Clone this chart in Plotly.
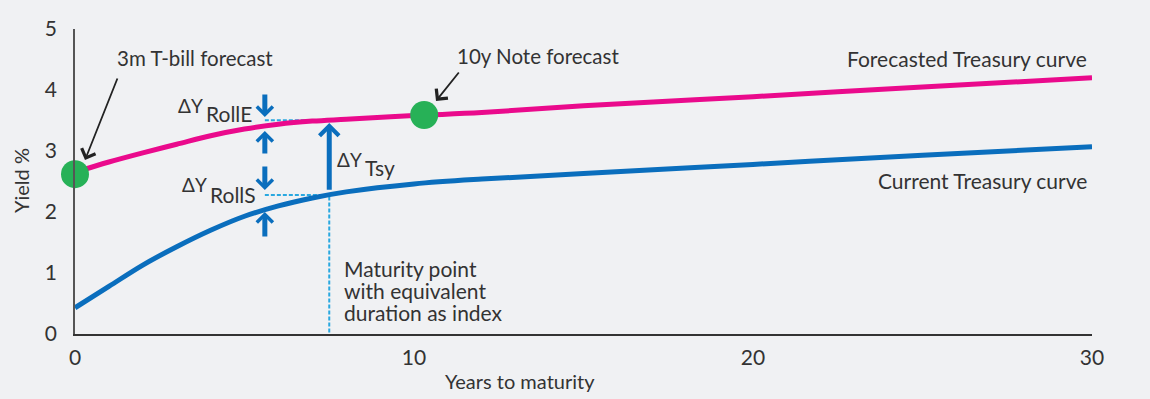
import numpy as np
import plotly.graph_objects as go

# ---- data ----
maturity = [0, 1, 2, 3, 4, 5, 6, 7, 8, 10, 12, 15, 20, 25, 30]
current_curve = [0.43, 0.78, 1.13, 1.43, 1.70, 1.93, 2.10, 2.23, 2.33, 2.46, 2.54, 2.63, 2.78, 2.93, 3.07]
forecast_curve = [2.65, 2.82, 2.97, 3.11, 3.25, 3.36, 3.44, 3.49, 3.52, 3.58, 3.63, 3.74, 3.89, 4.05, 4.2]

forecast_points_x = [0, 10.3]
forecast_points_y = [2.62, 3.59]

duration_yrs = 7.5      # maturity point with equivalent duration as index
roll_x = 5.6            # where roll-down arrows sit

x_ticks = [0, 10, 20, 30]
y_ticks = [0, 1, 2, 3, 4, 5]

maturity_note = ["Maturity point", "with equivalent", "duration as index"]

PINK = "#ea0a8c"
BLUE = "#0a6ebd"
LBLUE = "#29a8e0"
GREEN = "#27b157"
TXT = "#333333"
BG = "#f0f1f3"
FONT = "Lato"

L, R, T, B = 75, 58, 29, 65
W, H = 1150, 399
def xd(px):  # pixel -> data x
    return (px - L) / (W - L - R) * 30.0
def yd(py):  # pixel -> data y
    return (H - B - py) / (H - B - T) * 5.0
def xp(px):  # pixel -> paper x
    return (px - L) / (W - L - R)
def yp(py):  # pixel -> paper y
    return (H - B - py) / (H - B - T)

yE = float(np.interp(duration_yrs, maturity, forecast_curve))
yS = float(np.interp(duration_yrs, maturity, current_curve))

fig = go.Figure()

dot = dict(color=LBLUE, width=2, dash="4px,2px")
fig.add_trace(go.Scatter(x=[roll_x, duration_yrs], y=[yE, yE], mode="lines",
                         line=dot, hoverinfo="skip"))
fig.add_trace(go.Scatter(x=[roll_x, duration_yrs, duration_yrs], y=[yS, yS, 0], mode="lines",
                         line=dot, hoverinfo="skip"))

fig.add_trace(go.Scatter(x=maturity, y=current_curve, mode="lines",
                         line=dict(color=BLUE, width=5, shape="spline", smoothing=1),
                         cliponaxis=False))
fig.add_trace(go.Scatter(x=maturity, y=forecast_curve, mode="lines",
                         line=dict(color=PINK, width=5, shape="spline", smoothing=1),
                         cliponaxis=False))
fig.add_trace(go.Scatter(x=forecast_points_x, y=forecast_points_y, mode="markers",
                         marker=dict(color=GREEN, size=28), cliponaxis=False))

ann = []
def arrow(x0, y0, x1, y1, color, width, head=4, size=1.0):
    ann.append(dict(x=x1, y=y1, ax=x0, ay=y0, xref="x", yref="y", axref="x", ayref="y",
                    text="", showarrow=True, arrowhead=head, arrowsize=size,
                    arrowwidth=width, arrowcolor=color))

# big Tsy arrow
arrow(duration_yrs, yS + 0.06, duration_yrs, yd(123), BLUE, 5, size=0.75)
# roll arrows
arrow(roll_x, yd(93), roll_x, yd(117), BLUE, 5, size=0.62)
arrow(roll_x, yd(155), roll_x, yd(131), BLUE, 5, size=0.62)
arrow(roll_x, yd(165), roll_x, yd(190), BLUE, 5, size=0.62)
arrow(roll_x, yd(238), roll_x, yd(212), BLUE, 5, size=0.62)
# black call-out arrows
arrow(xd(118), yd(77), xd(85), yd(160), "#222222", 1.8, size=1.6)
arrow(xd(460), yd(71), xd(436), yd(101), "#222222", 1.8, size=1.6)

def label(xpx, ypx, text, xanchor="center", size=21):
    ann.append(dict(x=xd(xpx), y=yd(ypx), xref="x", yref="y", text=text, showarrow=False,
                    xanchor=xanchor, yanchor="middle", align="left",
                    font=dict(family=FONT, size=size, color=TXT)))

label(115, 58, "3m T-bill forecast", xanchor="left", size=20.5)
label(455, 56, "10y Note forecast", xanchor="left", size=20.5)
label(1089, 58, "Forecasted Treasury curve", xanchor="right")
label(1089, 180, "Current Treasury curve", xanchor="right")

def delta(xp_split, yp_main, yp_sub, sub):
    label(xp_split + 1, yp_main, "ΔY", xanchor="right", size=19)
    label(xp_split, yp_sub, sub, xanchor="left", size=21)

delta(204, 105, 113, "RollE")
delta(208, 184, 194, "RollS")
delta(363, 159, 167, "Tsy")

for i, line in enumerate(maturity_note):
    label(342, 268 + 22 * i, line, xanchor="left")

ann.append(dict(x=xp(520), y=yp(381), xref="paper", yref="paper",
                text="Years to maturity", showarrow=False, xanchor="center", yanchor="middle",
                font=dict(family=FONT, size=20, color=TXT)))
ann.append(dict(x=xp(21), y=yp(181), xref="paper", yref="paper", text="Yield %", textangle=-90,
                showarrow=False, xanchor="center", yanchor="middle",
                font=dict(family=FONT, size=20, color=TXT)))

fig.update_layout(
    width=W, height=H,
    margin=dict(l=L, r=R, t=T, b=B),
    paper_bgcolor=BG, plot_bgcolor=BG,
    showlegend=False,
    font=dict(family=FONT, size=21, color=TXT),
    annotations=ann,
    xaxis=dict(range=[0, 30], tickvals=x_ticks, showgrid=False, zeroline=False,
               showline=True, linecolor="#333333", linewidth=1.5, ticks="",
               tickfont=dict(size=21, color=TXT), ticklabelstandoff=4),
    yaxis=dict(range=[0, 5], tickvals=y_ticks, showgrid=False, zeroline=False,
               showline=True, linecolor="#555555", linewidth=1.5, ticks="",
               tickfont=dict(size=21, color=TXT), ticklabelstandoff=12),
)

fig.write_html("out.html")
